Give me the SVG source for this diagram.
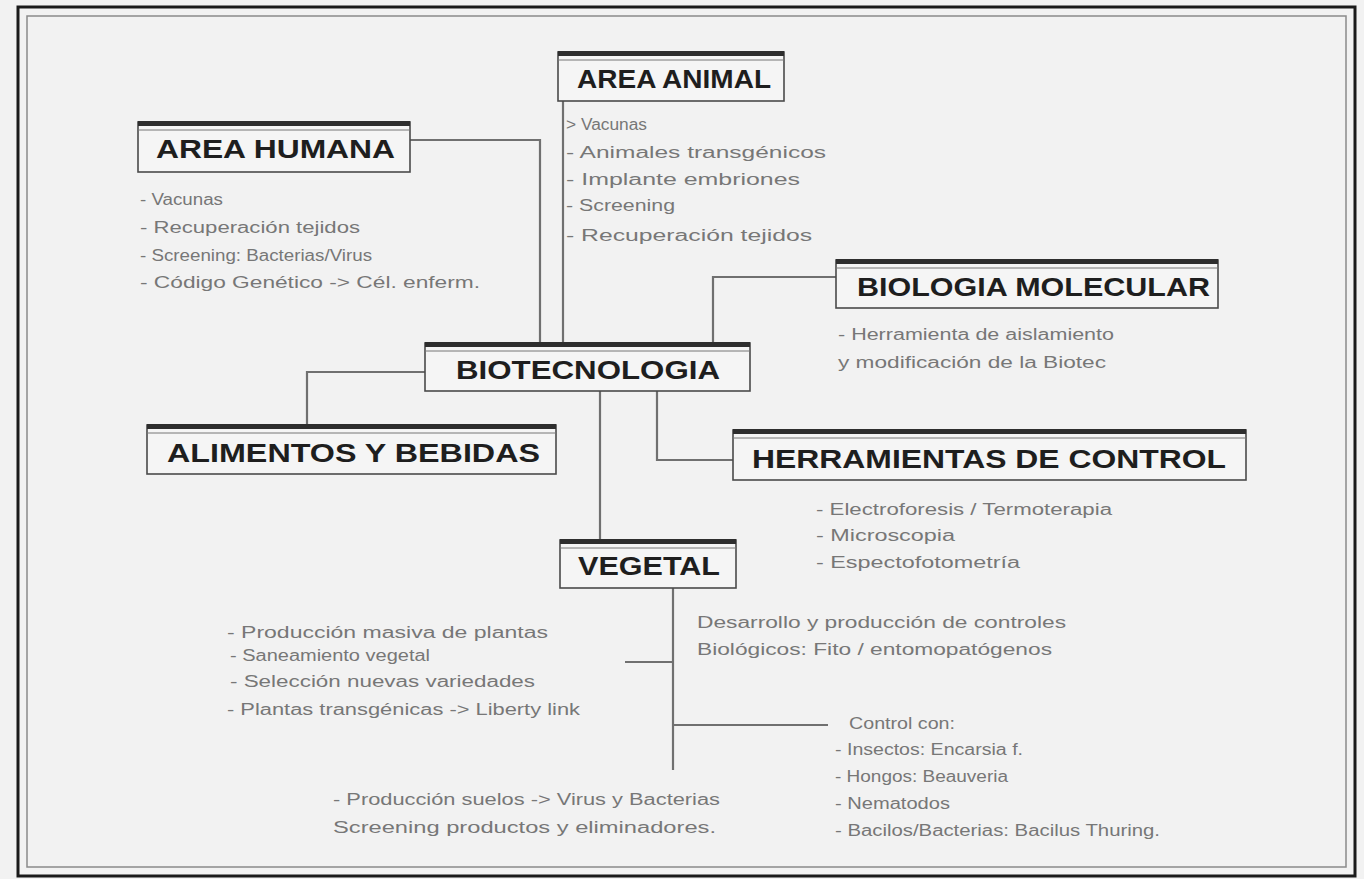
<svg xmlns="http://www.w3.org/2000/svg" width="1364" height="879" viewBox="0 0 1364 879">
<style>
.bg{fill:#f2f2f2}
.box{fill:#f5f5f5;stroke:#4a4a4a;stroke-width:1.6}
.bar{fill:#2e2e2e}
.bar2{fill:none;stroke:#777;stroke-width:1}
.title{font-family:"Liberation Sans",Arial,sans-serif;font-weight:bold;font-size:26px;fill:#1e1e1e}
.txt{font-family:"Liberation Sans",Arial,sans-serif;font-size:16px;fill:#777}
.con{fill:none;stroke:#707070;stroke-width:2.2}
</style>
<rect class="bg" x="0" y="0" width="1364" height="879"/>
<rect x="18" y="7" width="1337" height="869" fill="none" stroke="#1a1a1a" stroke-width="3"/>
<rect x="27" y="16" width="1319" height="851" fill="none" stroke="#8a8a8a" stroke-width="1.5"/>

<g id="connectors">
<polyline class="con" points="410,140 540,140 540,343"/>
<line class="con" x1="563" y1="101" x2="563" y2="343"/>
<polyline class="con" points="836,277 713,277 713,343"/>
<polyline class="con" points="425,372 307,372 307,425"/>
<line class="con" x1="600" y1="391" x2="600" y2="540"/>
<polyline class="con" points="657,391 657,460 733,460"/>
<line class="con" x1="673" y1="588" x2="673" y2="770"/>
<line class="con" x1="625" y1="662" x2="673" y2="662"/>
<line class="con" x1="673" y1="725" x2="828" y2="725"/>
</g>

<g id="area-humana">
<rect class="box" x="138" y="122" width="272" height="50"/>
<rect class="bar" x="138" y="121" width="272" height="5"/>
<line class="bar2" x1="138" y1="130" x2="410" y2="130"/>
<text class="title" x="156" y="158" textLength="239" lengthAdjust="spacingAndGlyphs">AREA HUMANA</text>
<text class="txt" x="140" y="205" textLength="83" lengthAdjust="spacingAndGlyphs">- Vacunas</text>
<text class="txt" x="140" y="233" textLength="220" lengthAdjust="spacingAndGlyphs">- Recuperación tejidos</text>
<text class="txt" x="140" y="261" textLength="232" lengthAdjust="spacingAndGlyphs">- Screening: Bacterias/Virus</text>
<text class="txt" x="140" y="288" textLength="340" lengthAdjust="spacingAndGlyphs">- Código Genético -&gt; Cél. enferm.</text>
</g>

<g id="area-animal">
<rect class="box" x="558" y="52" width="226" height="49"/>
<rect class="bar" x="558" y="51" width="226" height="5"/>
<line class="bar2" x1="558" y1="60" x2="784" y2="60"/>
<text class="title" x="577" y="88" textLength="194" lengthAdjust="spacingAndGlyphs">AREA ANIMAL</text>
<text class="txt" x="566" y="130" textLength="81" lengthAdjust="spacingAndGlyphs">&gt; Vacunas</text>
<text class="txt" x="566" y="158" textLength="260" lengthAdjust="spacingAndGlyphs">- Animales transgénicos</text>
<text class="txt" x="566" y="185" textLength="234" lengthAdjust="spacingAndGlyphs">- Implante embriones</text>
<text class="txt" x="566" y="211" textLength="109" lengthAdjust="spacingAndGlyphs">- Screening</text>
<text class="txt" x="566" y="241" textLength="246" lengthAdjust="spacingAndGlyphs">- Recuperación tejidos</text>
</g>

<g id="biologia-molecular">
<rect class="box" x="836" y="260" width="382" height="48"/>
<rect class="bar" x="836" y="259" width="382" height="5"/>
<line class="bar2" x1="836" y1="268" x2="1218" y2="268"/>
<text class="title" x="857" y="296" textLength="353" lengthAdjust="spacingAndGlyphs">BIOLOGIA MOLECULAR</text>
<text class="txt" x="838" y="340" textLength="276" lengthAdjust="spacingAndGlyphs">- Herramienta de aislamiento</text>
<text class="txt" x="838" y="368" textLength="268" lengthAdjust="spacingAndGlyphs">y modificación de la Biotec</text>
</g>

<g id="biotecnologia">
<rect class="box" x="425" y="343" width="325" height="48"/>
<rect class="bar" x="425" y="342" width="325" height="5"/>
<line class="bar2" x1="425" y1="351" x2="750" y2="351"/>
<text class="title" x="456" y="379" textLength="264" lengthAdjust="spacingAndGlyphs">BIOTECNOLOGIA</text>
</g>

<g id="alimentos-bebidas">
<rect class="box" x="147" y="425" width="409" height="49"/>
<rect class="bar" x="147" y="424" width="409" height="5"/>
<line class="bar2" x1="147" y1="433" x2="556" y2="433"/>
<text class="title" x="167" y="462" textLength="373" lengthAdjust="spacingAndGlyphs">ALIMENTOS Y BEBIDAS</text>
</g>

<g id="herramientas-control">
<rect class="box" x="733" y="430" width="513" height="50"/>
<rect class="bar" x="733" y="429" width="513" height="5"/>
<line class="bar2" x1="733" y1="438" x2="1246" y2="438"/>
<text class="title" x="752" y="468" textLength="474" lengthAdjust="spacingAndGlyphs">HERRAMIENTAS DE CONTROL</text>
<text class="txt" x="816" y="515" textLength="296" lengthAdjust="spacingAndGlyphs">- Electroforesis / Termoterapia</text>
<text class="txt" x="816" y="541" textLength="139" lengthAdjust="spacingAndGlyphs">- Microscopia</text>
<text class="txt" x="816" y="568" textLength="204" lengthAdjust="spacingAndGlyphs">- Espectofotometría</text>
</g>

<g id="vegetal">
<rect class="box" x="560" y="540" width="176" height="48"/>
<rect class="bar" x="560" y="539" width="176" height="5"/>
<line class="bar2" x1="560" y1="548" x2="736" y2="548"/>
<text class="title" x="578" y="575" textLength="142" lengthAdjust="spacingAndGlyphs">VEGETAL</text>
</g>

<g id="vegetal-produccion">
<text class="txt" x="227" y="638" textLength="321" lengthAdjust="spacingAndGlyphs">- Producción masiva de plantas</text>
<text class="txt" x="230" y="661" textLength="200" lengthAdjust="spacingAndGlyphs">- Saneamiento vegetal</text>
<text class="txt" x="230" y="687" textLength="305" lengthAdjust="spacingAndGlyphs">- Selección nuevas variedades</text>
<text class="txt" x="227" y="715" textLength="353" lengthAdjust="spacingAndGlyphs">- Plantas transgénicas -&gt; Liberty link</text>
</g>

<g id="vegetal-controles">
<text class="txt" x="697" y="628" textLength="369" lengthAdjust="spacingAndGlyphs">Desarrollo y producción de controles</text>
<text class="txt" x="697" y="655" textLength="355" lengthAdjust="spacingAndGlyphs">Biológicos: Fito / entomopatógenos</text>
</g>

<g id="vegetal-control-con">
<text class="txt" x="849" y="729" textLength="106" lengthAdjust="spacingAndGlyphs">Control con:</text>
<text class="txt" x="835" y="755" textLength="188" lengthAdjust="spacingAndGlyphs">- Insectos: Encarsia f.</text>
<text class="txt" x="835" y="782" textLength="173" lengthAdjust="spacingAndGlyphs">- Hongos: Beauveria</text>
<text class="txt" x="835" y="809" textLength="115" lengthAdjust="spacingAndGlyphs">- Nematodos</text>
<text class="txt" x="835" y="836" textLength="325" lengthAdjust="spacingAndGlyphs">- Bacilos/Bacterias: Bacilus Thuring.</text>
</g>

<g id="vegetal-suelos">
<text class="txt" x="333" y="805" textLength="387" lengthAdjust="spacingAndGlyphs">- Producción suelos -&gt; Virus y Bacterias</text>
<text class="txt" x="333" y="833" textLength="383" lengthAdjust="spacingAndGlyphs">Screening productos y eliminadores.</text>
</g>
</svg>
